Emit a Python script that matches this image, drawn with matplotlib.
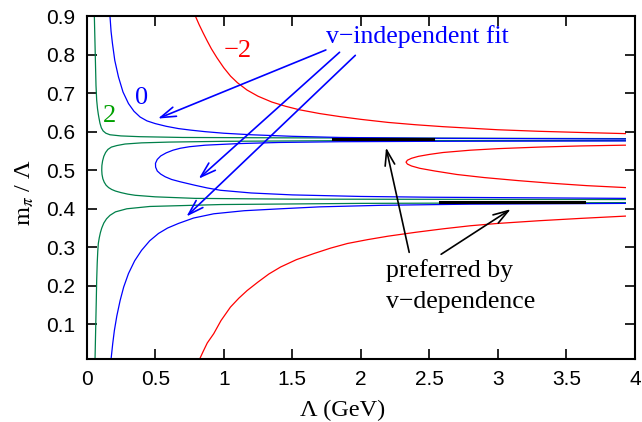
import matplotlib
matplotlib.use('Agg')
import matplotlib.pyplot as plt

plt.rcParams['font.family'] = ['Liberation Sans', 'DejaVu Sans']
plt.rcParams['mathtext.fontset'] = 'stix'

# curves (Lambda in GeV, m_pi / Lambda)
green_up_x = [0.056, 0.060, 0.064, 0.068, 0.073, 0.079, 0.085, 0.090, 0.097, 0.107, 0.120, 0.140, 0.170, 0.250, 0.390, 0.70, 1.5, 3.93]
green_up_y = [0.900, 0.840, 0.780, 0.720, 0.682, 0.660, 0.645, 0.635, 0.622, 0.610, 0.602, 0.596, 0.592, 0.589, 0.587, 0.585, 0.584, 0.582]
green_mid_x = [3.93, 2.0, 1.0, 0.60, 0.40, 0.28, 0.22, 0.18, 0.155, 0.138, 0.125, 0.116, 0.111, 0.110, 0.112, 0.118, 0.128, 0.142, 0.160, 0.183, 0.210, 0.250, 0.300, 0.354, 0.50, 0.79, 1.5, 3.93]
green_mid_y = [0.577, 0.577, 0.575, 0.573, 0.571, 0.568, 0.564, 0.560, 0.554, 0.546, 0.536, 0.524, 0.512, 0.500, 0.489, 0.478, 0.469, 0.461, 0.455, 0.450, 0.446, 0.442, 0.438, 0.435, 0.431, 0.427, 0.425, 0.424]
green_low_x = [0.061, 0.064, 0.067, 0.070, 0.073, 0.077, 0.081, 0.085, 0.092, 0.100, 0.110, 0.125, 0.145, 0.170, 0.210, 0.293, 0.46, 0.98, 2.0, 3.93]
green_low_y = [0.010, 0.060, 0.110, 0.160, 0.214, 0.260, 0.290, 0.310, 0.325, 0.338, 0.350, 0.363, 0.374, 0.383, 0.392, 0.400, 0.406, 0.411, 0.414, 0.416]

blue_up_x = [0.170, 0.178, 0.188, 0.205, 0.232, 0.265, 0.305, 0.345, 0.390, 0.440, 0.500, 0.580, 0.670, 0.760, 0.866, 1.0, 1.2, 1.5, 1.85, 2.5, 3.93]
blue_up_y = [0.900, 0.860, 0.829, 0.785, 0.742, 0.703, 0.673, 0.653, 0.638, 0.628, 0.621, 0.614, 0.608, 0.604, 0.600, 0.596, 0.592, 0.588, 0.585, 0.583, 0.581]
blue_mid_x = [3.93, 2.5, 1.85, 1.4, 1.1, 0.866, 0.75, 0.683, 0.63, 0.58, 0.54, 0.515, 0.502, 0.503, 0.515, 0.54, 0.573, 0.62, 0.683, 0.79, 0.88, 0.976, 1.2, 1.5, 2.0, 2.5, 3.93]
blue_mid_y = [0.576, 0.575, 0.574, 0.572, 0.569, 0.565, 0.561, 0.557, 0.552, 0.545, 0.537, 0.528, 0.518, 0.508, 0.498, 0.490, 0.483, 0.476, 0.470, 0.461, 0.454, 0.448, 0.441, 0.436, 0.432, 0.430, 0.427]
blue_low_x = [0.178, 0.190, 0.202, 0.220, 0.244, 0.270, 0.305, 0.350, 0.400, 0.460, 0.524, 0.590, 0.670, 0.780, 0.927, 1.15, 1.415, 1.7, 2.147, 2.8, 3.93]
blue_low_y = [0.010, 0.050, 0.084, 0.122, 0.162, 0.197, 0.232, 0.265, 0.292, 0.317, 0.336, 0.350, 0.362, 0.376, 0.387, 0.395, 0.400, 0.405, 0.409, 0.412, 0.414]

red_up_x = [0.793, 0.82, 0.85, 0.88, 0.91, 0.95, 1.0, 1.05, 1.1, 1.17, 1.25, 1.35, 1.45, 1.55, 1.7, 1.85, 2.0, 2.2, 2.4, 2.6, 2.8, 3.0, 3.3, 3.6, 3.93]
red_up_y = [0.900, 0.878, 0.856, 0.835, 0.815, 0.792, 0.766, 0.744, 0.727, 0.708, 0.692, 0.677, 0.666, 0.657, 0.647, 0.639, 0.632, 0.624, 0.618, 0.613, 0.609, 0.605, 0.601, 0.598, 0.595]
red_mid_x = [3.93, 3.6, 3.3, 3.0, 2.8, 2.6, 2.5, 2.42, 2.37, 2.34, 2.33, 2.34, 2.37, 2.43, 2.54, 2.7, 2.9, 3.15, 3.4, 3.65, 3.93]
red_mid_y = [0.565, 0.563, 0.560, 0.556, 0.552, 0.546, 0.541, 0.536, 0.531, 0.526, 0.521, 0.516, 0.511, 0.505, 0.498, 0.489, 0.481, 0.473, 0.466, 0.460, 0.455]
red_low_x = [0.824, 0.85, 0.88, 0.927, 0.98, 1.049, 1.11, 1.171, 1.25, 1.33, 1.415, 1.53, 1.659, 1.78, 1.903, 2.05, 2.2, 2.4, 2.6, 2.8, 3.0, 3.3, 3.6, 3.93]
red_low_y = [0.010, 0.030, 0.052, 0.076, 0.110, 0.145, 0.168, 0.188, 0.210, 0.231, 0.249, 0.268, 0.284, 0.298, 0.310, 0.320, 0.329, 0.339, 0.348, 0.356, 0.362, 0.369, 0.375, 0.381]

# ranges preferred by v-dependence
pref_up_x = [1.80, 2.53]
pref_up_y = [0.580, 0.580]
pref_low_x = [2.58, 3.63]
pref_low_y = [0.418, 0.418]

x_ticks = [0, 0.5, 1, 1.5, 2, 2.5, 3, 3.5, 4]
x_tick_labels = ['0', '0.5', '1', '1.5', '2', '2.5', '3', '3.5', '4']
y_ticks = [0.1, 0.2, 0.3, 0.4, 0.5, 0.6, 0.7, 0.8, 0.9]
y_tick_labels = ['0.1', '0.2', '0.3', '0.4', '0.5', '0.6', '0.7', '0.8', '0.9']

green = '#00804a'
blue = '#0000ff'
red = '#ff0000'
serif = ['Liberation Serif', 'DejaVu Serif']

fig = plt.figure(figsize=(6.42, 4.22), dpi=100)
ax = fig.add_axes([0.135, 0.149, 0.854, 0.813])

lw = 0.9
for xs, ys in [(green_up_x, green_up_y), (green_mid_x, green_mid_y), (green_low_x, green_low_y)]:
    ax.plot(xs, ys, color=green, lw=lw)
for xs, ys in [(blue_up_x, blue_up_y), (blue_mid_x, blue_mid_y), (blue_low_x, blue_low_y)]:
    ax.plot(xs, ys, color=blue, lw=lw)
for xs, ys in [(red_up_x, red_up_y), (red_mid_x, red_mid_y), (red_low_x, red_low_y)]:
    ax.plot(xs, ys, color=red, lw=lw)

ax.plot(pref_up_x, pref_up_y, color='black', lw=2.2)
ax.plot(pref_low_x, pref_low_y, color='black', lw=2.2)

# curve labels
ax.text(0.17, 0.625, '2', color='#00a000', fontsize=19, family=serif, ha='center', va='baseline')
ax.text(0.40, 0.673, '0', color=blue, fontsize=19, family=serif, ha='center', va='baseline')
ax.text(1.104, 0.794, '\u22122', color=red, fontsize=19, family=serif, ha='center', va='baseline')

# blue arrows
ax.text(1.745, 0.83, 'v\u2212independent fit', color=blue, fontsize=18.5, family=serif, ha='left', va='baseline')
bprops = dict(arrowstyle='->,head_length=1.1,head_width=0.35', color=blue, lw=1.2, shrinkA=0, shrinkB=0)
ax.annotate('', xy=(0.52, 0.634), xytext=(1.745, 0.812), arrowprops=bprops)
ax.annotate('', xy=(0.817, 0.478), xytext=(1.845, 0.806), arrowprops=bprops)
ax.annotate('', xy=(0.728, 0.380), xytext=(1.96, 0.798), arrowprops=bprops)

# black arrows
ax.text(2.184, 0.222, 'preferred by', color='black', fontsize=18.5, family=serif, ha='left', va='baseline')
ax.text(2.184, 0.142, 'v\u2212dependence', color='black', fontsize=18.5, family=serif, ha='left', va='baseline')
kprops = dict(arrowstyle='->,head_length=1.1,head_width=0.35', color='black', lw=1.2, shrinkA=0, shrinkB=0)
ax.annotate('', xy=(2.184, 0.559), xytext=(2.353, 0.287), arrowprops=kprops)
ax.annotate('', xy=(3.094, 0.399), xytext=(2.586, 0.282), arrowprops=kprops)

ax.set_xlim(0, 4)
ax.set_ylim(0.01, 0.9)
ax.set_xticks(x_ticks)
ax.set_xticklabels(x_tick_labels)
ax.set_yticks(y_ticks)
ax.set_yticklabels(y_tick_labels)
ax.tick_params(direction='in', length=7, width=1.2, top=True, right=True, labelsize=15, pad=8)
for s in ax.spines.values():
    s.set_linewidth(1.5)

ax.set_xlabel('\u039b (GeV)', fontsize=17.5, family=serif, va='baseline')
ax.xaxis.set_label_coords(0.467, -0.166)
ax.set_ylabel('$\\mathrm{m}_\\pi$ / \u039b', fontsize=17.5, family=serif)
ax.yaxis.set_label_coords(-0.092, 0.487)

fig.savefig('out.png', dpi=100)
